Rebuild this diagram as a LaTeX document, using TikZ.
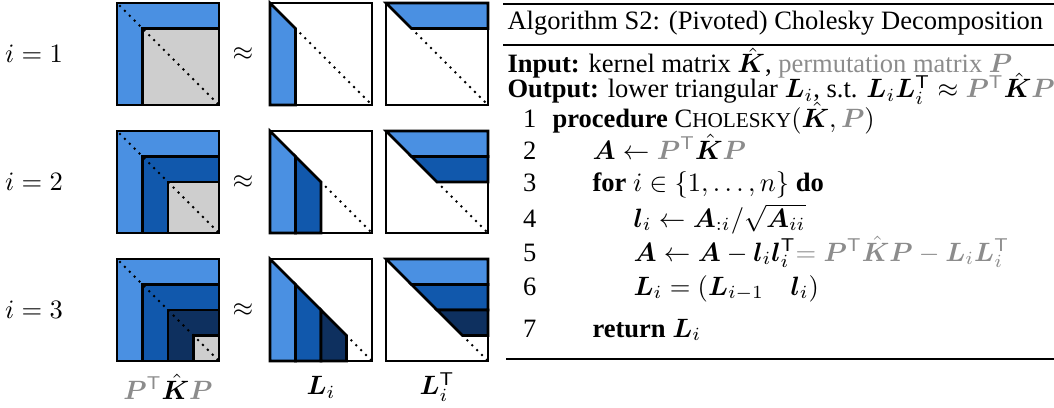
\documentclass[tikz,border=0pt]{standalone}
\usepackage[no-math]{fontspec}
\setmainfont{Liberation Serif}
\usepackage{bm}
\definecolor{lblue}{RGB}{74,144,226}
\definecolor{mblue}{RGB}{17,88,172}
\definecolor{dblue}{RGB}{14,48,95}
\definecolor{lgray}{RGB}{206,206,206}
\definecolor{tgray}{RGB}{140,140,140}
\newcommand{\trp}{^{\mathsf{T}}}
\newcommand{\gP}{{\color{tgray}\bm P}}
\newcommand{\gPT}{{\color{tgray}\bm P^{\mathsf{T}}}}
\newcommand{\Kh}{\hat{\bm K}}
\begin{document}
\begin{tikzpicture}[x=0.377pt,y=-0.377pt,
  box/.style={line width=1pt},
  dots/.style={line width=1.1pt,line cap=round,dash pattern=on 0pt off 2.6pt},
  txt/.style={anchor=base west,inner sep=0pt}]
\useasboundingbox (0,0) rectangle (1054,408);

% the three steps
\foreach \r/\cols in {1/{lgray},2/{mblue,lgray},3/{mblue,dblue,lgray}} {
  \node (i\r) at (34,{54+128*(\r-1)}) {$i=\r$};
  \node (ap\r) at (243,{54+128*(\r-1)}) {$\approx$};
  % P^T K P
  \begin{scope}[shift={(117,{3+128*(\r-1)})}]
    \fill[lblue] (0,0) rectangle (102,102);
    \foreach \c [count=\k] in \cols
      \fill[\c] (25.5*\k,25.5*\k) rectangle (102,102);
    \foreach \k in {1,...,\r}
      \draw[box] (25.5*\k,25.5*\k) rectangle (102,102);
    \draw[box] (0,0) rectangle (102,102);
    \draw[dots] (3,3) -- (102,102);
  \end{scope}
  % L_i
  \begin{scope}[shift={(270,{3+128*(\r-1)})}]
    \foreach \c [count=\k] in {lblue,mblue,dblue} {
      \ifnum\k>\r\else
        \filldraw[box,fill=\c] ({25.5*(\k-1)},{25.5*(\k-1)}) -- (25.5*\k,25.5*\k)
          -- (25.5*\k,102) -- ({25.5*(\k-1)},102) -- cycle;
      \fi
    }
    \draw[box] (0,0) rectangle (102,102);
    \draw[dots] (25.5*\r,25.5*\r) -- (102,102);
  \end{scope}
  % L_i^T
  \begin{scope}[shift={(386,{3+128*(\r-1)})}]
    \foreach \c [count=\k] in {lblue,mblue,dblue} {
      \ifnum\k>\r\else
        \filldraw[box,fill=\c] ({25.5*(\k-1)},{25.5*(\k-1)}) -- (102,{25.5*(\k-1)})
          -- (102,25.5*\k) -- (25.5*\k,25.5*\k) -- cycle;
      \fi
    }
    \draw[box] (0,0) rectangle (102,102);
    \draw[dots] (25.5*\r,25.5*\r) -- (102,102);
  \end{scope}
}
\node (lA) at (168,387) {$\gPT\Kh\gP$};
\node (lL) at (321,387) {$\bm L_i$};
\node (lLT) at (437,387) {$\bm L_i\trp$};

% algorithm
\draw[line width=0.7pt] (503,4) -- (1054,4);
\draw[line width=0.4pt] (503,45) -- (1054,45);
\draw[line width=1pt] (506,359) -- (1054,359);
\node[txt] (title) at (507,30) {Algorithm S2: (Pivoted) Cholesky Decomposition};
\node[txt] (inp) at (507,73) {\textbf{Input:} kernel matrix $\Kh$, {\color{tgray}permutation matrix $\bm P$}};
\node[txt] (outp) at (507,98) {\textbf{Output:} lower triangular $\bm L_i$, s.t. $\bm L_i\bm L_i\trp \approx \gPT\Kh\gP$};
\foreach \n/\y in {1/127,2/159,3/191,4/227,5/261,6/295,7/337}
  \node[anchor=base east,inner sep=0pt] (n\n) at (537,\y) {\n};
\node[txt] (l1) at (552,127) {\textbf{procedure} C{\footnotesize HOLESKY}$(\Kh,\gP)$};
\node[txt] (l2) at (592,159) {$\bm A \leftarrow \gPT\Kh\gP$};
\node[txt] (l3) at (592,191) {\textbf{for} $i \in \{1,\dots,n\}$ \textbf{do}};
\node[txt] (l4) at (633,227) {$\bm l_i \leftarrow \bm A_{:i}/\sqrt{\bm A_{ii}}$};
\node[txt] (l5) at (633,261) {$\bm A \leftarrow \bm A - \bm l_i\bm l_i\trp{\color{tgray}= \bm P^{\mathsf{T}}\Kh\bm P - \bm L_i\bm L_i\trp}$};
\node[txt] (l6) at (633,295) {$\bm L_i = (\bm L_{i-1}\quad \bm l_i)$};
\node[txt] (l7) at (592,337) {\textbf{return} $\bm L_i$};
\end{tikzpicture}
\end{document}
